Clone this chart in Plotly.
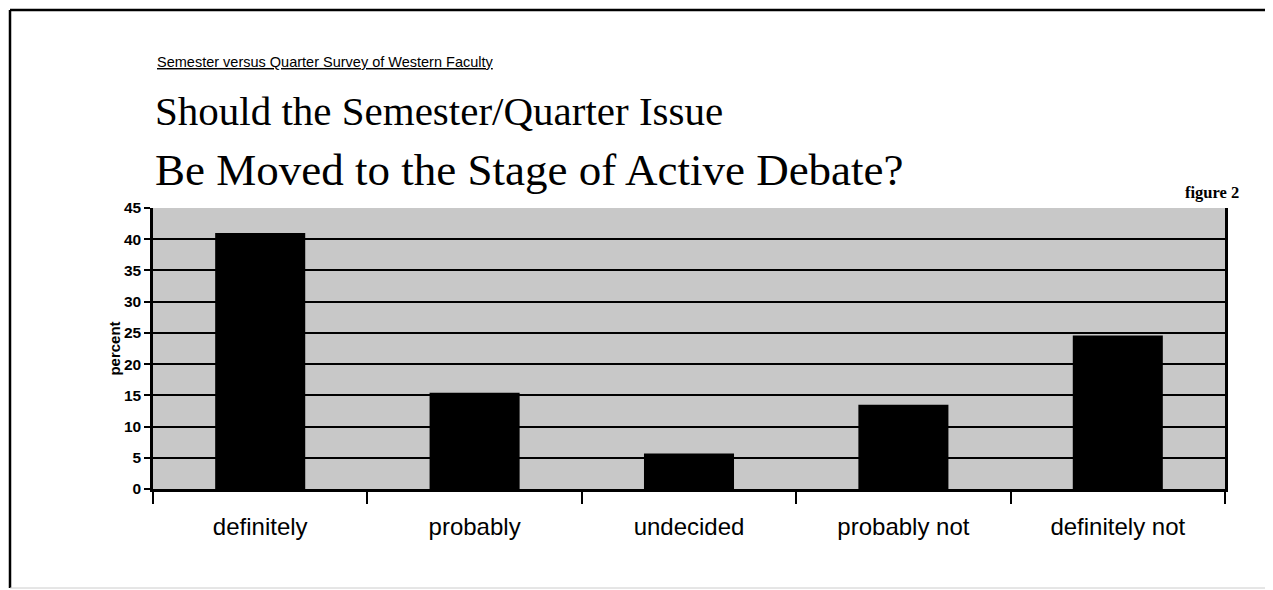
import plotly.graph_objects as go

categories = ["definitely", "probably", "undecided", "probably not", "definitely not"]
percent = [41, 15.4, 5.7, 13.5, 24.6]
y_ticks = [0, 5, 10, 15, 20, 25, 30, 35, 40, 45]

W, H = 1273, 590
OFF = 8  # page body margin
L, T = 153 - OFF, 208 - OFF
R = W - (1225 - OFF)
B = H - (489 - OFF)
pw = W - L - R
ph = H - T - B

def px(x):
    return (x - OFF - L) / pw

def py(y):
    return (H - B - (y - OFF)) / ph

fig = go.Figure()
fig.add_trace(go.Bar(x=categories, y=percent, marker=dict(color="black", line=dict(width=0)),
                     width=0.42, hoverinfo="x+y"))

fig.update_layout(
    width=W, height=H,
    margin=dict(l=L, r=R, t=T, b=B),
    paper_bgcolor="white",
    plot_bgcolor="#c8c8c8",
    showlegend=False,
    font=dict(family="Liberation Sans, Arial", color="black"),
)
fig.update_xaxes(
    type="category", tickson="boundaries", ticks="outside", ticklen=12, tickwidth=1.5,
    tickcolor="black", showline=True, linecolor="black", linewidth=2.5, mirror=False,
    tickfont=dict(size=24, family="Liberation Sans, Arial"), showgrid=False,
    ticklabelstandoff=14,
)
fig.update_yaxes(
    range=[0, 45], tickvals=y_ticks, ticks="outside", ticklen=6, tickwidth=1.5,
    tickcolor="black", showline=True, linecolor="black", linewidth=2.5, mirror=True,
    showgrid=True, gridcolor="black", gridwidth=2, zeroline=False,
    tickfont=dict(size=15.5, family="Liberation Sans, Arial", weight="bold"),
    title=dict(text="percent", font=dict(size=15, family="Liberation Sans, Arial", weight="bold"),
               standoff=0),
)

annotations = [
    dict(text="Semester versus Quarter Survey of Western Faculty", x=px(155), y=py(62),
         font=dict(size=14.5, family="Liberation Sans, Arial", lineposition="under")),
    dict(text="Should the Semester/Quarter Issue", x=px(153), y=py(111),
         font=dict(size=41, family="Liberation Serif, Times New Roman")),
    dict(text="Be Moved to the Stage of Active Debate?", x=px(153), y=py(170),
         font=dict(size=45, family="Liberation Serif, Times New Roman")),
    dict(text="figure 2", x=px(1183), y=py(192),
         font=dict(size=16.5, family="Liberation Serif, Times New Roman", weight="bold")),
]
for a in annotations:
    fig.add_annotation(xref="paper", yref="paper", xanchor="left", yanchor="middle",
                       showarrow=False, **a)

fx0, fx1 = px(10), px(1271)
fy0, fy1 = py(588), py(10)
fig.add_shape(type="line", xref="paper", yref="paper", x0=fx0, x1=fx1, y0=fy1, y1=fy1,
              line=dict(color="black", width=2.5))
fig.add_shape(type="line", xref="paper", yref="paper", x0=fx0, x1=fx0, y0=fy0, y1=fy1,
              line=dict(color="black", width=2.5))
fig.add_shape(type="line", xref="paper", yref="paper", x0=fx1, x1=fx1, y0=fy0, y1=fy1,
              line=dict(color="#cccccc", width=1))
fig.add_shape(type="line", xref="paper", yref="paper", x0=fx0, x1=fx1, y0=fy0, y1=fy0,
              line=dict(color="#cccccc", width=1))

fig.write_html("out.html")
